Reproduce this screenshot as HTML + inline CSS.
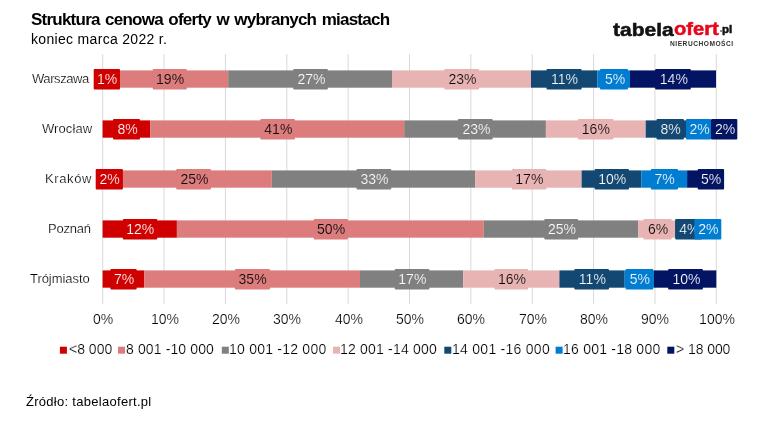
<!DOCTYPE html>
<html><head><meta charset="utf-8">
<style>
html,body{margin:0;padding:0;background:#fff;}
body{width:777px;height:425px;position:relative;overflow:hidden;font-family:"Liberation Sans",sans-serif;}
.t{position:absolute;white-space:nowrap;line-height:1;will-change:transform;}
.seg{position:absolute;}
.box{position:absolute;will-change:transform;font-size:14px;line-height:20px;text-align:center;white-space:nowrap;}
.gl{position:absolute;width:1px;background:#d9d9d9;top:54px;height:250px;}
.ax{position:absolute;will-change:transform;-webkit-text-stroke:0.2px #fff;font-size:14px;line-height:1;white-space:nowrap;color:#000;text-align:center;width:60px;}
.lg{position:absolute;top:347px;width:7px;height:7px;}
</style></head><body>

<div class="t" id="title" style="left:31.00px;top:10.70px;font-size:17px;font-weight:bold;color:#000;letter-spacing:-0.767px;word-spacing:1.5px;">Struktura cenowa oferty w wybranych miastach</div>
<div class="t" id="sub" style="left:31.00px;top:31.80px;font-size:14px;font-weight:normal;color:#000;letter-spacing:0.316px;">koniec marca 2022 r.</div>
<div class="t" id="cat0" style="left:32.20px;top:71.60px;font-size:13px;font-weight:normal;color:#000;letter-spacing:-0.429px;-webkit-text-stroke:0.2px #fff;">Warszawa</div>
<div class="t" id="cat1" style="left:42.20px;top:121.60px;font-size:13px;font-weight:normal;color:#000;letter-spacing:0.083px;-webkit-text-stroke:0.2px #fff;">Wrocław</div>
<div class="t" id="cat2" style="left:45.40px;top:171.60px;font-size:13px;font-weight:normal;color:#000;letter-spacing:0.600px;-webkit-text-stroke:0.2px #fff;">Kraków</div>
<div class="t" id="cat3" style="left:48.00px;top:221.60px;font-size:13px;font-weight:normal;color:#000;letter-spacing:-0.200px;-webkit-text-stroke:0.2px #fff;">Poznań</div>
<div class="t" id="cat4" style="left:30.40px;top:271.60px;font-size:13px;font-weight:normal;color:#000;letter-spacing:-0.056px;-webkit-text-stroke:0.2px #fff;">Trójmiasto</div>
<div class="t" id="leg0" style="left:69.20px;top:342.40px;font-size:14px;font-weight:normal;color:#000;letter-spacing:-0.000px;-webkit-text-stroke:0.2px #fff;">&lt;8 000</div>
<div class="t" id="leg1" style="left:126.20px;top:342.40px;font-size:14px;font-weight:normal;color:#000;letter-spacing:0.125px;-webkit-text-stroke:0.2px #fff;">8 001 -10 000</div>
<div class="t" id="leg2" style="left:229.40px;top:342.40px;font-size:14px;font-weight:normal;color:#000;letter-spacing:0.231px;-webkit-text-stroke:0.2px #fff;">10 001 -12 000</div>
<div class="t" id="leg3" style="left:340.00px;top:342.40px;font-size:14px;font-weight:normal;color:#000;letter-spacing:0.192px;-webkit-text-stroke:0.2px #fff;">12 001 -14 000</div>
<div class="t" id="leg4" style="left:451.60px;top:342.40px;font-size:14px;font-weight:normal;color:#000;letter-spacing:0.269px;-webkit-text-stroke:0.2px #fff;">14 001 -16 000</div>
<div class="t" id="leg5" style="left:563.20px;top:342.40px;font-size:14px;font-weight:normal;color:#000;letter-spacing:0.231px;-webkit-text-stroke:0.2px #fff;">16 001 -18 000</div>
<div class="t" id="leg6" style="left:676.40px;top:342.40px;font-size:14px;font-weight:normal;color:#000;letter-spacing:-0.071px;-webkit-text-stroke:0.2px #fff;">&gt; 18 000</div>
<div class="t" id="logo1" style="left:612.50px;top:21.00px;font-size:18px;font-weight:bold;color:#111;letter-spacing:0.000px;transform:scaleX(1.1664);transform-origin:0 0;-webkit-text-stroke:0.5px #111;">tabela</div>
<div class="t" id="logo2" style="left:673.70px;top:20.00px;font-size:18px;font-weight:bold;color:#e8061a;letter-spacing:0.000px;transform:scaleX(1.1210);transform-origin:0 0;-webkit-text-stroke:0.5px #e8061a;">ofert</div>
<div class="t" id="logo3" style="left:722.10px;top:24.00px;font-size:11px;font-weight:bold;color:#111;letter-spacing:0.000px;transform:scaleX(1.0567);transform-origin:0 0;-webkit-text-stroke:0.5px #111;">pl</div>
<div class="t" id="logo4" style="left:670.00px;top:41.00px;font-size:6.6px;font-weight:bold;color:#333;letter-spacing:0.533px;">NIERUCHOMOŚCI</div>
<div class="t" id="src" style="left:25.80px;top:394.80px;font-size:13px;font-weight:normal;color:#000;letter-spacing:0.286px;">Źródło: tabelaofert.pl</div>
<svg width="777" height="425" style="position:absolute;left:0;top:0">
<rect x="102.20" y="54" width="1" height="250" fill="#d9d9d9"/>
<rect x="163.56" y="54" width="1" height="250" fill="#d9d9d9"/>
<rect x="224.92" y="54" width="1" height="250" fill="#d9d9d9"/>
<rect x="286.28" y="54" width="1" height="250" fill="#d9d9d9"/>
<rect x="347.64" y="54" width="1" height="250" fill="#d9d9d9"/>
<rect x="409.00" y="54" width="1" height="250" fill="#d9d9d9"/>
<rect x="470.36" y="54" width="1" height="250" fill="#d9d9d9"/>
<rect x="531.72" y="54" width="1" height="250" fill="#d9d9d9"/>
<rect x="593.08" y="54" width="1" height="250" fill="#d9d9d9"/>
<rect x="654.44" y="54" width="1" height="250" fill="#d9d9d9"/>
<rect x="715.80" y="54" width="1" height="250" fill="#d9d9d9"/>
<rect x="102.60" y="70.40" width="8.50" height="17.3" fill="#d00000"/>
<rect x="111.10" y="70.40" width="117.10" height="17.3" fill="#dc7c7c"/>
<rect x="228.20" y="70.40" width="163.80" height="17.3" fill="#808080"/>
<rect x="392.00" y="70.40" width="139.00" height="17.3" fill="#e8b3b3"/>
<rect x="531.00" y="70.40" width="66.30" height="17.3" fill="#134872"/>
<rect x="597.30" y="70.40" width="32.70" height="17.3" fill="#007dd0"/>
<rect x="630.00" y="70.40" width="86.00" height="17.3" fill="#031462"/>
<rect x="102.60" y="120.40" width="47.70" height="17.3" fill="#d00000"/>
<rect x="150.30" y="120.40" width="253.90" height="17.3" fill="#dc7c7c"/>
<rect x="404.20" y="120.40" width="141.70" height="17.3" fill="#808080"/>
<rect x="545.90" y="120.40" width="99.80" height="17.3" fill="#e8b3b3"/>
<rect x="645.70" y="120.40" width="52.30" height="17.3" fill="#134872"/>
<rect x="698.00" y="120.40" width="12.00" height="17.3" fill="#007dd0"/>
<rect x="710.00" y="120.40" width="6.00" height="17.3" fill="#031462"/>
<rect x="102.60" y="170.40" width="13.40" height="17.3" fill="#d00000"/>
<rect x="116.00" y="170.40" width="155.80" height="17.3" fill="#dc7c7c"/>
<rect x="271.80" y="170.40" width="203.60" height="17.3" fill="#808080"/>
<rect x="475.40" y="170.40" width="106.20" height="17.3" fill="#e8b3b3"/>
<rect x="581.60" y="170.40" width="59.70" height="17.3" fill="#134872"/>
<rect x="641.30" y="170.40" width="45.80" height="17.3" fill="#007dd0"/>
<rect x="687.10" y="170.40" width="30.90" height="17.3" fill="#031462"/>
<rect x="102.60" y="220.40" width="74.30" height="17.3" fill="#d00000"/>
<rect x="176.90" y="220.40" width="306.90" height="17.3" fill="#dc7c7c"/>
<rect x="483.80" y="220.40" width="154.50" height="17.3" fill="#808080"/>
<rect x="638.30" y="220.40" width="36.90" height="17.3" fill="#e8b3b3"/>
<rect x="675.20" y="220.40" width="24.80" height="17.3" fill="#134872"/>
<rect x="700.00" y="220.40" width="16.00" height="17.3" fill="#007dd0"/>
<rect x="102.60" y="270.40" width="41.80" height="17.3" fill="#d00000"/>
<rect x="144.40" y="270.40" width="215.60" height="17.3" fill="#dc7c7c"/>
<rect x="360.00" y="270.40" width="103.20" height="17.3" fill="#808080"/>
<rect x="463.20" y="270.40" width="96.20" height="17.3" fill="#e8b3b3"/>
<rect x="559.40" y="270.40" width="65.30" height="17.3" fill="#134872"/>
<rect x="624.70" y="270.40" width="29.20" height="17.3" fill="#007dd0"/>
<rect x="653.90" y="270.40" width="62.40" height="17.3" fill="#031462"/>
</svg>
<svg width="777" height="425" style="position:absolute;left:0;top:0"><rect x="93.70" y="69" width="26.30" height="20.4" rx="1" fill="#d00000"/></svg>
<div class="box" style="left:94.30px;top:69px;width:26.30px;height:20px;color:#fff;-webkit-text-stroke:0.2px #d00000">1%</div>
<svg width="777" height="425" style="position:absolute;left:0;top:0"><rect x="152.70" y="69" width="34.20" height="20.4" rx="1" fill="#dc7c7c"/></svg>
<div class="box" style="left:153.30px;top:69px;width:34.20px;height:20px;color:#000;-webkit-text-stroke:0.2px #dc7c7c">19%</div>
<svg width="777" height="425" style="position:absolute;left:0;top:0"><rect x="293.10" y="69" width="34.80" height="20.4" rx="1" fill="#808080"/></svg>
<div class="box" style="left:293.70px;top:69px;width:34.80px;height:20px;color:#fff;-webkit-text-stroke:0.2px #808080">27%</div>
<svg width="777" height="425" style="position:absolute;left:0;top:0"><rect x="444.20" y="69" width="34.90" height="20.4" rx="1" fill="#e8b3b3"/></svg>
<div class="box" style="left:444.80px;top:69px;width:34.90px;height:20px;color:#000;-webkit-text-stroke:0.2px #e8b3b3">23%</div>
<svg width="777" height="425" style="position:absolute;left:0;top:0"><rect x="546.50" y="69" width="35.10" height="20.4" rx="1" fill="#134872"/></svg>
<div class="box" style="left:547.10px;top:69px;width:35.10px;height:20px;color:#fff;-webkit-text-stroke:0.2px #134872">11%</div>
<svg width="777" height="425" style="position:absolute;left:0;top:0"><rect x="600.00" y="69" width="28.00" height="20.4" rx="1" fill="#007dd0"/></svg>
<div class="box" style="left:600.60px;top:69px;width:28.00px;height:20px;color:#fff;-webkit-text-stroke:0.2px #007dd0">5%</div>
<svg width="777" height="425" style="position:absolute;left:0;top:0"><rect x="655.10" y="69" width="35.70" height="20.4" rx="1" fill="#031462"/></svg>
<div class="box" style="left:655.70px;top:69px;width:35.70px;height:20px;color:#fff;-webkit-text-stroke:0.2px #031462">14%</div>
<svg width="777" height="425" style="position:absolute;left:0;top:0"><rect x="113.00" y="119" width="27.00" height="20.4" rx="1" fill="#d00000"/></svg>
<div class="box" style="left:113.60px;top:119px;width:27.00px;height:20px;color:#fff;-webkit-text-stroke:0.2px #d00000">8%</div>
<svg width="777" height="425" style="position:absolute;left:0;top:0"><rect x="260.30" y="119" width="34.70" height="20.4" rx="1" fill="#dc7c7c"/></svg>
<div class="box" style="left:260.90px;top:119px;width:34.70px;height:20px;color:#000;-webkit-text-stroke:0.2px #dc7c7c">41%</div>
<svg width="777" height="425" style="position:absolute;left:0;top:0"><rect x="457.90" y="119" width="34.80" height="20.4" rx="1" fill="#808080"/></svg>
<div class="box" style="left:458.50px;top:119px;width:34.80px;height:20px;color:#fff;-webkit-text-stroke:0.2px #808080">23%</div>
<svg width="777" height="425" style="position:absolute;left:0;top:0"><rect x="577.80" y="119" width="35.70" height="20.4" rx="1" fill="#e8b3b3"/></svg>
<div class="box" style="left:578.40px;top:119px;width:35.70px;height:20px;color:#000;-webkit-text-stroke:0.2px #e8b3b3">16%</div>
<svg width="777" height="425" style="position:absolute;left:0;top:0"><rect x="656.50" y="119" width="27.40" height="20.4" rx="1" fill="#134872"/></svg>
<div class="box" style="left:657.10px;top:119px;width:27.40px;height:20px;color:#fff;-webkit-text-stroke:0.2px #134872">8%</div>
<svg width="777" height="425" style="position:absolute;left:0;top:0"><rect x="686.00" y="119" width="25.00" height="20.4" rx="1" fill="#007dd0"/></svg>
<div class="box" style="left:686.60px;top:119px;width:25.00px;height:20px;color:#fff;-webkit-text-stroke:0.2px #007dd0">2%</div>
<svg width="777" height="425" style="position:absolute;left:0;top:0"><rect x="711.00" y="119" width="26.30" height="20.4" rx="1" fill="#031462"/></svg>
<div class="box" style="left:711.60px;top:119px;width:26.30px;height:20px;color:#fff;-webkit-text-stroke:0.2px #031462">2%</div>
<svg width="777" height="425" style="position:absolute;left:0;top:0"><rect x="95.70" y="169" width="27.20" height="20.4" rx="1" fill="#d00000"/></svg>
<div class="box" style="left:96.30px;top:169px;width:27.20px;height:20px;color:#fff;-webkit-text-stroke:0.2px #d00000">2%</div>
<svg width="777" height="425" style="position:absolute;left:0;top:0"><rect x="176.20" y="169" width="34.80" height="20.4" rx="1" fill="#dc7c7c"/></svg>
<div class="box" style="left:176.80px;top:169px;width:34.80px;height:20px;color:#000;-webkit-text-stroke:0.2px #dc7c7c">25%</div>
<svg width="777" height="425" style="position:absolute;left:0;top:0"><rect x="356.50" y="169" width="34.80" height="20.4" rx="1" fill="#808080"/></svg>
<div class="box" style="left:357.10px;top:169px;width:34.80px;height:20px;color:#fff;-webkit-text-stroke:0.2px #808080">33%</div>
<svg width="777" height="425" style="position:absolute;left:0;top:0"><rect x="511.80" y="169" width="34.70" height="20.4" rx="1" fill="#e8b3b3"/></svg>
<div class="box" style="left:512.40px;top:169px;width:34.70px;height:20px;color:#000;-webkit-text-stroke:0.2px #e8b3b3">17%</div>
<svg width="777" height="425" style="position:absolute;left:0;top:0"><rect x="594.60" y="169" width="34.40" height="20.4" rx="1" fill="#134872"/></svg>
<div class="box" style="left:595.20px;top:169px;width:34.40px;height:20px;color:#fff;-webkit-text-stroke:0.2px #134872">10%</div>
<svg width="777" height="425" style="position:absolute;left:0;top:0"><rect x="650.80" y="169" width="27.20" height="20.4" rx="1" fill="#007dd0"/></svg>
<div class="box" style="left:651.40px;top:169px;width:27.20px;height:20px;color:#fff;-webkit-text-stroke:0.2px #007dd0">7%</div>
<svg width="777" height="425" style="position:absolute;left:0;top:0"><rect x="697.70" y="169" width="26.40" height="20.4" rx="1" fill="#031462"/></svg>
<div class="box" style="left:698.30px;top:169px;width:26.40px;height:20px;color:#fff;-webkit-text-stroke:0.2px #031462">5%</div>
<svg width="777" height="425" style="position:absolute;left:0;top:0"><rect x="122.80" y="219" width="34.50" height="20.4" rx="1" fill="#d00000"/></svg>
<div class="box" style="left:123.40px;top:219px;width:34.50px;height:20px;color:#fff;-webkit-text-stroke:0.2px #d00000">12%</div>
<svg width="777" height="425" style="position:absolute;left:0;top:0"><rect x="313.70" y="219" width="34.20" height="20.4" rx="1" fill="#dc7c7c"/></svg>
<div class="box" style="left:314.30px;top:219px;width:34.20px;height:20px;color:#000;-webkit-text-stroke:0.2px #dc7c7c">50%</div>
<svg width="777" height="425" style="position:absolute;left:0;top:0"><rect x="544.30" y="219" width="33.80" height="20.4" rx="1" fill="#808080"/></svg>
<div class="box" style="left:544.90px;top:219px;width:33.80px;height:20px;color:#fff;-webkit-text-stroke:0.2px #808080">25%</div>
<svg width="777" height="425" style="position:absolute;left:0;top:0"><rect x="643.40" y="219" width="28.30" height="20.4" rx="1" fill="#e8b3b3"/></svg>
<div class="box" style="left:644.00px;top:219px;width:28.30px;height:20px;color:#000;-webkit-text-stroke:0.2px #e8b3b3">6%</div>
<svg width="777" height="425" style="position:absolute;left:0;top:0"><rect x="675.20" y="219" width="26.80" height="20.4" rx="1" fill="#134872"/></svg>
<div class="box" style="left:675.80px;top:219px;width:26.80px;height:20px;color:#fff;-webkit-text-stroke:0.2px #134872">4%</div>
<svg width="777" height="425" style="position:absolute;left:0;top:0"><rect x="694.40" y="219" width="26.90" height="20.4" rx="1" fill="#007dd0"/></svg>
<div class="box" style="left:695.00px;top:219px;width:26.90px;height:20px;color:#fff;-webkit-text-stroke:0.2px #007dd0">2%</div>
<svg width="777" height="425" style="position:absolute;left:0;top:0"><rect x="110.40" y="269" width="26.30" height="20.4" rx="1" fill="#d00000"/></svg>
<div class="box" style="left:111.00px;top:269px;width:26.30px;height:20px;color:#fff;-webkit-text-stroke:0.2px #d00000">7%</div>
<svg width="777" height="425" style="position:absolute;left:0;top:0"><rect x="234.80" y="269" width="35.20" height="20.4" rx="1" fill="#dc7c7c"/></svg>
<div class="box" style="left:235.40px;top:269px;width:35.20px;height:20px;color:#000;-webkit-text-stroke:0.2px #dc7c7c">35%</div>
<svg width="777" height="425" style="position:absolute;left:0;top:0"><rect x="394.70" y="269" width="34.70" height="20.4" rx="1" fill="#808080"/></svg>
<div class="box" style="left:395.30px;top:269px;width:34.70px;height:20px;color:#fff;-webkit-text-stroke:0.2px #808080">17%</div>
<svg width="777" height="425" style="position:absolute;left:0;top:0"><rect x="494.40" y="269" width="33.80" height="20.4" rx="1" fill="#e8b3b3"/></svg>
<div class="box" style="left:495.00px;top:269px;width:33.80px;height:20px;color:#000;-webkit-text-stroke:0.2px #e8b3b3">16%</div>
<svg width="777" height="425" style="position:absolute;left:0;top:0"><rect x="574.30" y="269" width="34.70" height="20.4" rx="1" fill="#134872"/></svg>
<div class="box" style="left:574.90px;top:269px;width:34.70px;height:20px;color:#fff;-webkit-text-stroke:0.2px #134872">11%</div>
<svg width="777" height="425" style="position:absolute;left:0;top:0"><rect x="625.60" y="269" width="27.70" height="20.4" rx="1" fill="#007dd0"/></svg>
<div class="box" style="left:626.20px;top:269px;width:27.70px;height:20px;color:#fff;-webkit-text-stroke:0.2px #007dd0">5%</div>
<svg width="777" height="425" style="position:absolute;left:0;top:0"><rect x="668.10" y="269" width="34.80" height="20.4" rx="1" fill="#031462"/></svg>
<div class="box" style="left:668.70px;top:269px;width:34.80px;height:20px;color:#fff;-webkit-text-stroke:0.2px #031462">10%</div>
<div class="ax" style="left:73.2px;top:312.3px">0%</div>
<div class="ax" style="left:134.6px;top:312.3px">10%</div>
<div class="ax" style="left:195.9px;top:312.3px">20%</div>
<div class="ax" style="left:257.3px;top:312.3px">30%</div>
<div class="ax" style="left:318.6px;top:312.3px">40%</div>
<div class="ax" style="left:380.0px;top:312.3px">50%</div>
<div class="ax" style="left:441.4px;top:312.3px">60%</div>
<div class="ax" style="left:502.7px;top:312.3px">70%</div>
<div class="ax" style="left:564.1px;top:312.3px">80%</div>
<div class="ax" style="left:625.4px;top:312.3px">90%</div>
<div class="ax" style="left:686.8px;top:312.3px">100%</div>
<svg width="777" height="425" style="position:absolute;left:0;top:0"><rect x="59.9" y="346.7" width="7" height="7" fill="#d00000"/><rect x="118" y="346.7" width="7" height="7" fill="#dc7c7c"/><rect x="221.8" y="346.7" width="7" height="7" fill="#808080"/><rect x="333" y="346.7" width="7" height="7" fill="#e8b3b3"/><rect x="444.3" y="346.7" width="7" height="7" fill="#134872"/><rect x="555.6" y="346.7" width="7" height="7" fill="#007dd0"/><rect x="667.3" y="346.7" width="7" height="7" fill="#031462"/></svg>
<div style="position:absolute;left:719.5px;top:30px;width:2px;height:2px;border-radius:1px;background:#666"></div>
</body></html>
